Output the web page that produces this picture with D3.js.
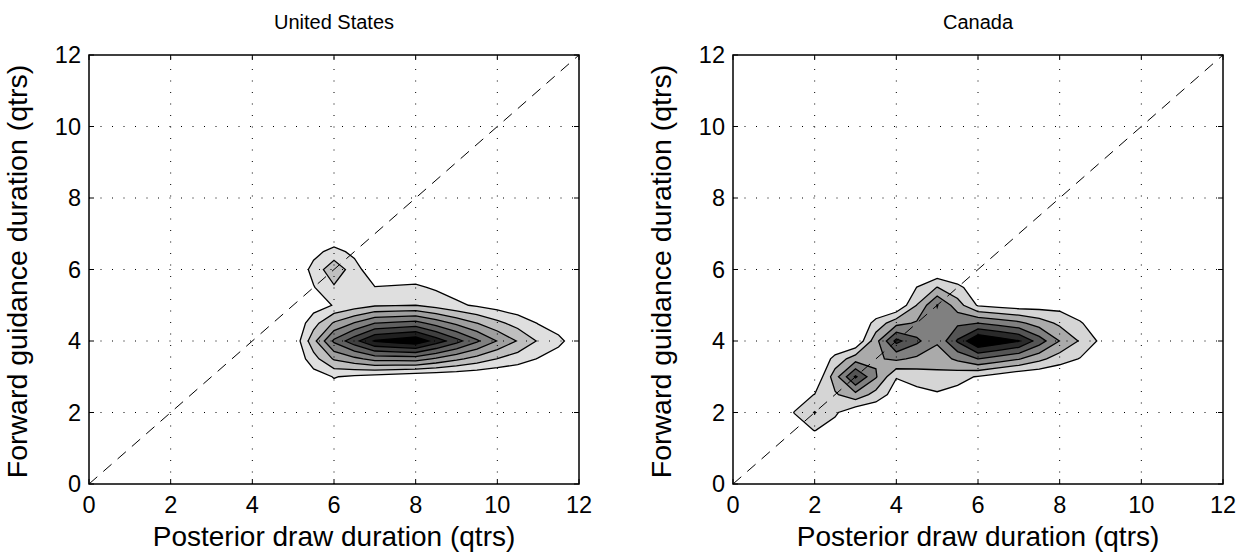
<!DOCTYPE html>
<html>
<head>
<meta charset="utf-8">
<script src="https://cdn.jsdelivr.net/npm/d3@7/dist/d3.min.js"></script>
<style>
  body { margin: 0; background: #fff; }
  svg { display: block; }
  text { font-family: "Liberation Sans", Arial, Helvetica, sans-serif; fill: #000; }
</style>
</head>
<body>
<svg id="chart" width="1252" height="560"></svg>
<script>
// Posterior draw duration (x) and forward guidance duration (y), in quarters.
const durations = d3.range(0, 13);
const axisTicks = [0, 2, 4, 6, 8, 10, 12];

// Contour levels of the joint frequency of draws.
const usLevels = [1, 2, 3, 4, 5, 6, 7, 8];
const caLevels = [1, 2, 3, 4, 5, 6];

// Frequency grids, one row per forward guidance duration (0 first),
// one column per posterior draw duration 0..12.
const usDensity = [
  [0, 0, 0, 0, 0, 0,    0,    0,    0,    0,    0,    0,   0],
  [0, 0, 0, 0, 0, 0,    0,    0,    0,    0,    0,    0,   0],
  [0, 0, 0, 0, 0, 0,    0,    0,    0,    0,    0,    0,   0],
  [0, 0, 0, 0, 0, 0,    1.05, 0.6,  0.2,  0.1,  0,    0,   0],
  [0, 0, 0, 0, 0, 0.15, 5.2,  8.1,  8.75, 6.36, 3.95, 1.9, 0.5],
  [0, 0, 0, 0, 0, 0,    1.06, 1.87, 2.0,  1.18, 0.56, 0,   0],
  [0, 0, 0, 0, 0, 0,    2.7,  0.2,  0.3,  0,    0,    0,   0],
  [0, 0, 0, 0, 0, 0,    0,    0,    0,    0,    0,    0,   0],
  [0, 0, 0, 0, 0, 0,    0,    0,    0,    0,    0,    0,   0],
  [0, 0, 0, 0, 0, 0,    0,    0,    0,    0,    0,    0,   0],
  [0, 0, 0, 0, 0, 0,    0,    0,    0,    0,    0,    0,   0],
  [0, 0, 0, 0, 0, 0,    0,    0,    0,    0,    0,    0,   0],
  [0, 0, 0, 0, 0, 0,    0,    0,    0,    0,    0,    0,   0]
];

const caDensity = [
  [0, 0, 0,    0,    0,    0,    0,    0,    0,    0,   0, 0, 0],
  [0, 0, 0,    0,    0,    0,    0,    0,    0,    0,   0, 0, 0],
  [0, 0, 2.05, 0.24, 0,    0,    0,    0,    0,    0,   0, 0, 0],
  [0, 0, 0,    5.15, 1.05, 1.72, 0.92, 0.1,  0,    0,   0, 0, 0],
  [0, 0, 0,    0,    5.3,  3.15, 7.1,  6.05, 2.98, 0.8, 0, 0, 0],
  [0, 0, 0,    0,    0,    4.05, 0.88, 0.45, 0.6,  0,   0, 0, 0],
  [0, 0, 0,    0,    0,    0,    0,    0,    0,    0,   0, 0, 0],
  [0, 0, 0,    0,    0,    0,    0,    0,    0,    0,   0, 0, 0],
  [0, 0, 0,    0,    0,    0,    0,    0,    0,    0,   0, 0, 0],
  [0, 0, 0,    0,    0,    0,    0,    0,    0,    0,   0, 0, 0],
  [0, 0, 0,    0,    0,    0,    0,    0,    0,    0,   0, 0, 0],
  [0, 0, 0,    0,    0,    0,    0,    0,    0,    0,   0, 0, 0],
  [0, 0, 0,    0,    0,    0,    0,    0,    0,    0,   0, 0, 0]
];

const xLabel = "Posterior draw duration (qtrs)";
const yLabel = "Forward guidance duration (qtrs)";

const panels = [
  { title: "United States", density: usDensity, levels: usLevels, left: 89, right: 579 },
  { title: "Canada", density: caDensity, levels: caLevels, left: 733, right: 1223 }
];

const plotTop = 55, plotBottom = 484;
const svg = d3.select("#chart");

// Add cell-centre and edge-midpoint samples (means of the surrounding grid
// values) so ambiguous saddle cells are resolved by the cell mean and the
// contour edges stay straight between grid lines.
const SUB = 2;
function refine(grid) {
  const n = durations.length, m = (n - 1) * SUB + 1;
  const out = new Array(m * m);
  for (let j = 0; j < m; j++) {
    const gy = j / SUB, y0 = Math.min(Math.floor(gy), n - 2), ty = gy - y0;
    for (let i = 0; i < m; i++) {
      const gx = i / SUB, x0 = Math.min(Math.floor(gx), n - 2), tx = gx - x0;
      const a = grid[y0][x0], b = grid[y0][x0 + 1], c = grid[y0 + 1][x0], d = grid[y0 + 1][x0 + 1];
      out[j * m + i] = (a * (1 - tx) + b * tx) * (1 - ty) + (c * (1 - tx) + d * tx) * ty;
    }
  }
  return { values: out, size: m };
}

panels.forEach((p, pi) => {
  const x = d3.scaleLinear().domain([0, 12]).range([p.left, p.right]);
  const y = d3.scaleLinear().domain([0, 12]).range([plotBottom, plotTop]);
  const g = svg.append("g");

  g.append("clipPath").attr("id", "clip" + pi)
    .append("rect").attr("x", p.left).attr("y", plotTop)
    .attr("width", p.right - p.left).attr("height", plotBottom - plotTop);

  const { values, size } = refine(p.density);
  const bands = d3.contours().size([size, size]).thresholds(p.levels)(values);
  const project = d3.geoTransform({
    point(cx, cy) { this.stream.point(x((cx - 0.5) / SUB), y((cy - 0.5) / SUB)); }
  });
  const path = d3.geoPath(project);
  const N = p.levels.length;
  const shade = k => { const v = Math.round(255 * (1 - (k + 1) / N)); return d3.rgb(v, v, v).toString(); };

  const plot = g.append("g").attr("clip-path", `url(#clip${pi})`);
  plot.selectAll("path.band").data(bands).join("path")
    .attr("class", "band")
    .attr("d", path)
    .attr("fill", (d, k) => shade(k))
    .attr("stroke", "none");
  plot.selectAll("path.iso").data(bands).join("path")
    .attr("class", "iso")
    .attr("d", path)
    .attr("fill", "none")
    .attr("stroke", "#000")
    .attr("stroke-width", 1.3)
    .attr("stroke-linejoin", "miter");

  // dotted grid
  const inner = axisTicks.filter(t => t > 0 && t < 12);
  plot.selectAll("line.gx").data(inner).join("line")
    .attr("class", "gx")
    .attr("x1", d => x(d)).attr("x2", d => x(d))
    .attr("y1", plotBottom).attr("y2", plotTop)
    .attr("stroke", "#000").attr("stroke-width", 1)
    .attr("stroke-dasharray", "1,10.5");
  plot.selectAll("line.gy").data(inner).join("line")
    .attr("class", "gy")
    .attr("y1", d => y(d)).attr("y2", d => y(d))
    .attr("x1", p.left).attr("x2", p.right)
    .attr("stroke", "#000").attr("stroke-width", 1)
    .attr("stroke-dasharray", "1,10.5");

  // 45-degree reference line
  plot.append("line")
    .attr("x1", x(0)).attr("y1", y(0)).attr("x2", x(12)).attr("y2", y(12))
    .attr("stroke", "#000").attr("stroke-width", 1)
    .attr("stroke-dasharray", "11,8");

  // inward ticks on all four sides
  const tl = 5;
  axisTicks.forEach(t => {
    g.append("line").attr("x1", x(t)).attr("x2", x(t)).attr("y1", plotBottom).attr("y2", plotBottom - tl).attr("stroke", "#000");
    g.append("line").attr("x1", x(t)).attr("x2", x(t)).attr("y1", plotTop).attr("y2", plotTop + tl).attr("stroke", "#000");
    g.append("line").attr("y1", y(t)).attr("y2", y(t)).attr("x1", p.left).attr("x2", p.left + tl).attr("stroke", "#000");
    g.append("line").attr("y1", y(t)).attr("y2", y(t)).attr("x1", p.right).attr("x2", p.right - tl).attr("stroke", "#000");
  });

  g.append("rect").attr("x", p.left).attr("y", plotTop)
    .attr("width", p.right - p.left).attr("height", plotBottom - plotTop)
    .attr("fill", "none").attr("stroke", "#000").attr("stroke-width", 1.5);

  // tick labels
  g.selectAll("text.xt").data(axisTicks).join("text")
    .attr("class", "xt")
    .attr("x", d => x(d)).attr("y", plotBottom + 29)
    .attr("text-anchor", "middle").attr("font-size", 23.5).text(d => d);
  g.selectAll("text.yt").data(axisTicks).join("text")
    .attr("class", "yt")
    .attr("x", p.left - 8).attr("y", d => y(d) + 8)
    .attr("text-anchor", "end").attr("font-size", 23.5).text(d => d);

  // axis titles
  g.append("text").attr("x", (p.left + p.right) / 2).attr("y", 546)
    .attr("text-anchor", "middle").attr("font-size", 28).text(xLabel);
  g.append("text")
    .attr("transform", `translate(${p.left - 62},${(plotTop + plotBottom) / 2 + 2}) rotate(-90)`)
    .attr("text-anchor", "middle").attr("font-size", 28.5).text(yLabel);

  g.append("text").attr("x", (p.left + p.right) / 2).attr("y", 29)
    .attr("text-anchor", "middle").attr("font-size", 20).text(p.title);
});
</script>
</body>
</html>
